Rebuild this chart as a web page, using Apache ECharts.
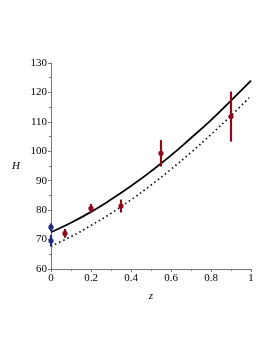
<!DOCTYPE html>
<html><head><meta charset="utf-8">
<script src="https://cdn.jsdelivr.net/npm/echarts@6/dist/echarts.min.js"></script>
<style>html,body{margin:0;padding:0;background:#fff}#c{width:273px;height:353px}</style>
</head><body><div id="c"></div>
<script>
var zCurve = [0, 0.1, 0.2, 0.3, 0.4, 0.5, 0.6, 0.7, 0.8, 0.9, 1.0];
var hSolid = [72.5, 75.7, 79.4, 83.6, 88.2, 93.2, 98.6, 104.5, 110.6, 117.2, 124.0];
var hDotted = [67.8, 71.0, 74.8, 78.9, 83.5, 88.5, 93.9, 99.6, 105.7, 112.1, 118.8];
var zRed = [0.07, 0.2, 0.35, 0.55, 0.9];
var hRed = [72.1, 80.6, 81.4, 99.3, 111.8];
var errRed = [1.5, 1.5, 2.2, 4.5, 8.5];
var zBlue = [0, 0];
var hBlue = [74.2, 69.6];
var errBlue = [1.3, 2.0];
var xTicks = ['0', '0.2', '0.4', '0.6', '0.8', '1'];

function pairs(xs, ys) { return xs.map(function (x, i) { return [x, ys[i]]; }); }
function errData(xs, ys, es) { return xs.map(function (x, i) { return [x, ys[i], es[i]]; }); }
function errSeries(data, color) {
  return {
    type: 'custom', clip: false, z: 5, data: data,
    renderItem: function (params, api) {
      var x = api.value(0), y = api.value(1), e = api.value(2);
      var p = api.coord([x, y]), lo = api.coord([x, y - e]), hi = api.coord([x, y + e]);
      return { type: 'group', children: [
        { type: 'line', shape: { x1: lo[0], y1: lo[1], x2: hi[0], y2: hi[1] }, style: { stroke: color, lineWidth: 2.2 } },
        { type: 'circle', shape: { cx: p[0], cy: p[1], r: 2.6 }, style: { fill: color } }
      ]};
    }
  };
}
var font = 'Liberation Serif';
var chart = echarts.init(document.getElementById('c'));
chart.setOption({
  animation: false,
  grid: { left: 51, right: 22, top: 63, bottom: 84 },
  xAxis: {
    type: 'value', min: 0, max: 1, interval: 0.2,
    name: 'z', nameLocation: 'middle', nameGap: 22,
    nameTextStyle: { fontFamily: font, fontStyle: 'italic', fontSize: 11, color: '#000' },
    axisLine: { lineStyle: { color: '#777', width: 1 } },
    axisTick: { length: 3, lineStyle: { color: '#777' } },
    minorTick: { show: true, splitNumber: 2, length: 2, lineStyle: { color: '#777' } },
    axisLabel: { fontFamily: font, fontSize: 11, color: '#000', margin: 4,
      formatter: function (v) { return xTicks[Math.round(v / 0.2)]; } },
    splitLine: { show: false }
  },
  yAxis: {
    type: 'value', min: 60, max: 130, interval: 10,
    name: 'H', nameLocation: 'middle', nameGap: 31, nameRotate: 0,
    nameTextStyle: { fontFamily: font, fontStyle: 'italic', fontSize: 11, color: '#000' },
    axisLine: { show: true, lineStyle: { color: '#777', width: 1 } },
    axisTick: { show: true, length: 3, lineStyle: { color: '#777' } },
    minorTick: { show: true, splitNumber: 2, length: 2, lineStyle: { color: '#777' } },
    axisLabel: { fontFamily: font, fontSize: 11, color: '#000', margin: 4 },
    splitLine: { show: false }
  },
  series: [
    { type: 'line', data: pairs(zCurve, hSolid), smooth: true, symbol: 'none',
      lineStyle: { color: '#000', width: 1.8 } },
    { type: 'line', data: pairs(zCurve, hDotted), smooth: true, symbol: 'none',
      lineStyle: { color: '#000', width: 1.6, type: [1.5, 3] } },
    errSeries(errData(zRed, hRed, errRed), '#8b0a1e'),
    errSeries(errData(zBlue, hBlue, errBlue), '#1c2a80')
  ]
});
</script></body></html>
